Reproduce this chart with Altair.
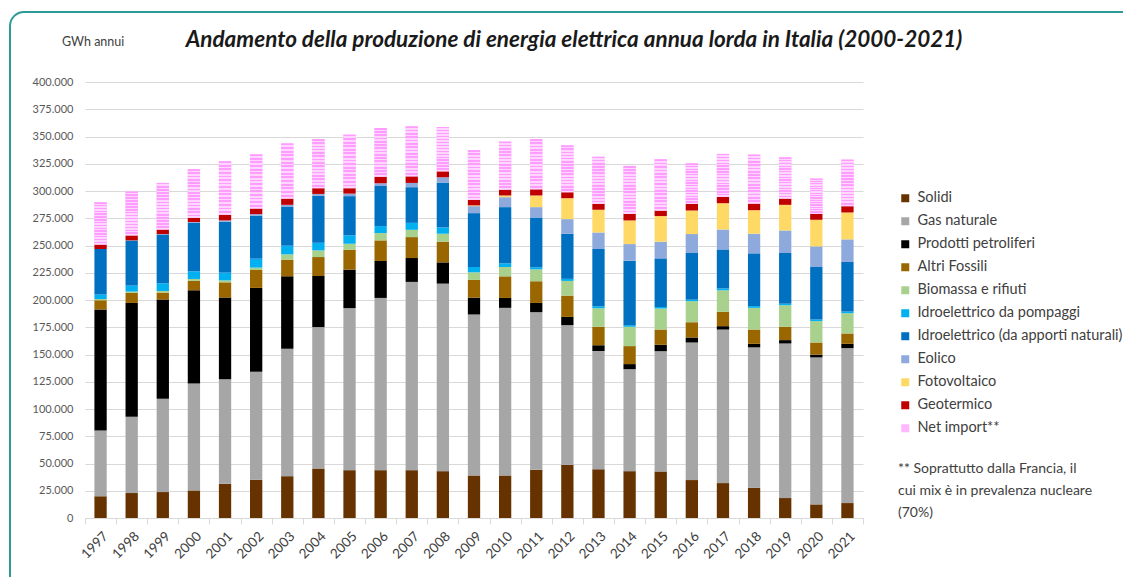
import altair as alt
import pandas as pd

years = [str(y) for y in range(1997, 2022)]
sources = ["Solidi", "Gas naturale", "Prodotti petroliferi", "Altri Fossili",
           "Biomassa e rifiuti", "Idroelettrico da pompaggi",
           "Idroelettrico (da apporti naturali)", "Eolico", "Fotovoltaico",
           "Geotermico", "Net import**"]
colors = ["#663300", "#A6A6A6", "#000000", "#996600", "#A9D18E", "#00B0F0",
          "#0070C0", "#8EA9DB", "#FFD966", "#C00000", "#FFB8FF"]

# GWh annui
solidi = [20000, 22900, 23800, 25300, 31400, 35100, 38400, 45400, 43900, 43900, 43900, 43000, 39000,
          39000, 44200, 48800, 44800, 43000, 42700, 34800, 32000, 27800, 18300, 12500, 13700]
gas = [60200, 70100, 85700, 98200, 95800, 99100, 116800, 129700, 148600, 158000, 172700, 172000, 147700,
       153800, 144600, 128100, 108300, 93600, 110400, 126200, 140900, 128700, 141800, 134800, 142200]
petroliferi = [111000, 104300, 90900, 85400, 75000, 76900, 66500, 46900, 35300, 33900, 21900, 19500, 15500,
               9100, 8500, 7600, 5500, 4600, 5800, 4600, 3100, 3300, 3100, 2500, 3900]
altri_fossili = [8500, 9200, 6400, 8600, 14000, 16400, 15300, 17400, 18300, 18900, 19200, 19000, 16200,
                 19800, 19900, 19500, 16800, 16500, 14000, 14000, 13100, 13100, 12200, 11200, 9500]
biomassa = [1200, 1200, 1500, 1800, 1800, 2200, 4900, 6100, 5500, 6700, 6700, 7300, 7000,
            8600, 10900, 13500, 17100, 17700, 19300, 19300, 19800, 19900, 19800, 19600, 18600]
pompaggi = [4100, 5500, 7000, 7000, 7100, 8200, 7900, 7000, 7700, 6400, 6400, 5800, 4900,
            3300, 1900, 1900, 1700, 1500, 1400, 1400, 1800, 1600, 1400, 1500, 1500]
idro_naturale = [41700, 41300, 44800, 44600, 46700, 39500, 36000, 43000, 36000, 36800, 32700, 41100, 49400,
                 51600, 45700, 41400, 52500, 59200, 44600, 42800, 35700, 48400, 46500, 48200, 45500]
eolico = [100, 200, 400, 600, 1200, 1400, 1500, 1800, 2300, 2500, 3900, 4900, 6400,
          9100, 9500, 13400, 15300, 15200, 15300, 17400, 18300, 18000, 20700, 18900, 20700]
fotovoltaico = [0, 0, 0, 0, 0, 0, 0, 0, 0, 0, 0, 0, 700,
                1600, 10700, 19200, 20700, 21700, 23500, 21600, 24100, 21600, 23500, 24400, 24700]
geotermico = [4200, 4600, 4200, 3900, 5200, 5200, 5800, 5300, 5000, 6100, 6100, 5500, 5100,
              5400, 5700, 5500, 5500, 6100, 5100, 6100, 5800, 6100, 5800, 5500, 5800]
net_import = [38700, 40200, 42700, 44600, 49100, 49700, 50600, 45100, 49100, 44600, 45800, 40600, 45700,
              44000, 46100, 43000, 43300, 43900, 47000, 37200, 39400, 44900, 37800, 32300, 42700]
y_ticks = [0, 25000, 50000, 75000, 100000, 125000, 150000, 175000, 200000, 225000, 250000,
           275000, 300000, 325000, 350000, 375000, 400000]

title_text = "Andamento della produzione  di energia elettrica annua lorda in Italia (2000-2021)"
unit_text = "GWh annui"
footnote_text = "** Soprattutto dalla Francia, il\ncui mix è in prevalenza nucleare\n(70%)"

series = [solidi, gas, petroliferi, altri_fossili, biomassa, pompaggi, idro_naturale,
          eolico, fotovoltaico, geotermico, net_import]
rows = []
for k, (name, vals) in enumerate(zip(sources, series)):
    for y, v in zip(years, vals):
        rows.append({"year": y, "source": name, "value": v, "order": k})
df = pd.DataFrame(rows)

FONT = "Lato"
W, H = 778, 436
BAR = 12.3

x_axis = alt.Axis(labelAngle=-45, labelFont=FONT, labelFontSize=13.5,
                  labelColor="#404040", labelPadding=5,
                  domainColor="#D9D9D9", tickColor="#D9D9D9",
                  tickSize=6, tickBand="extent", grid=False)
x_scale = alt.Scale(paddingInner=0, paddingOuter=0)
y_axis = alt.Axis(values=y_ticks, labelOverlap=False, tickCount=17,
                  labelExpr="replace(format(datum.value, ','), ',', '.')",
                  labelFont=FONT, labelFontSize=11, labelColor="#595959",
                  labelPadding=12, domain=False, ticks=False,
                  grid=True, gridColor="#D9D9D9")
y_scale = alt.Scale(domain=[0, 400000], nice=False)

bars = alt.Chart(df).mark_bar(size=BAR).encode(
    x=alt.X("year:O", title=None, scale=x_scale, axis=x_axis),
    y=alt.Y("value:Q", stack="zero", title=None, scale=y_scale, axis=y_axis),
    color=alt.Color("source:N", scale=alt.Scale(domain=sources, range=colors),
                    legend=alt.Legend(title=None, orient="none", legendX=813, legendY=109,
                                      symbolType="square", symbolSize=64,
                                      symbolStrokeWidth=0, labelFont=FONT,
                                      labelFontSize=14.5, labelColor="#404040",
                                      rowPadding=8, labelOffset=5, labelLimit=320,
                                      padding=0)),
    order=alt.Order("order:Q", sort="ascending"),
)

# striped fill for net import
n = 15
stops = []
for i in range(n):
    a, b, c = i / n, (i + 0.5) / n, (i + 1) / n
    stops += [alt.GradientStop(offset=a, color="#FF9CFF"),
              alt.GradientStop(offset=b, color="#FF9CFF"),
              alt.GradientStop(offset=b, color="#FFD6FF"),
              alt.GradientStop(offset=c, color="#FFD6FF")]
grad = alt.LinearGradient(gradient="linear", stops=stops, x1=0, x2=0, y1=0, y2=1)

stripes = alt.Chart(df).transform_stack(
    stack="value", as_=["v0", "v1"], groupby=["year"],
    sort=[alt.SortField("order", order="ascending")]
).transform_filter(alt.datum.source == "Net import**").mark_bar(size=BAR, color=grad).encode(
    x=alt.X("year:O", title=None, scale=x_scale, axis=x_axis),
    y=alt.Y("v0:Q", title=None, scale=y_scale, axis=y_axis),
    y2="v1:Q",
)

frame = alt.Chart(pd.DataFrame({"f": [0]})).mark_rect(
    filled=False, stroke="#2E9A98", strokeWidth=2, cornerRadius=14
).encode(x=alt.value(-75), x2=alt.value(1060), y=alt.value(-70), y2=alt.value(520))

title = alt.Chart(pd.DataFrame({"t": [title_text]})).mark_text(
    font=FONT, fontSize=22.5, fontStyle="italic", fontWeight="bold", color="#1A1A1A",
    align="center", baseline="middle"
).encode(text="t:N", x=alt.value(489), y=alt.value(-42))

unit = alt.Chart(pd.DataFrame({"t": [unit_text]})).mark_text(
    font=FONT, fontSize=12.5, color="#404040", align="left", baseline="middle"
).encode(text="t:N", x=alt.value(-23), y=alt.value(-40))

foot = alt.Chart(pd.DataFrame({"t": [footnote_text]})).mark_text(
    font=FONT, fontSize=14, color="#404040", align="left", baseline="middle",
    lineBreak="\n", lineHeight=22
).encode(text="t:N", x=alt.value(813), y=alt.value(387))

chart = alt.layer(frame, bars, stripes, title, unit, foot).properties(
    width=W, height=H,
    autosize=alt.AutoSizeParams(type="none"),
    padding={"left": 77, "top": 74, "right": 260, "bottom": 59},
).configure_view(stroke=None)

chart.save("out.html", embed_options={"renderer": "svg", "actions": False})
